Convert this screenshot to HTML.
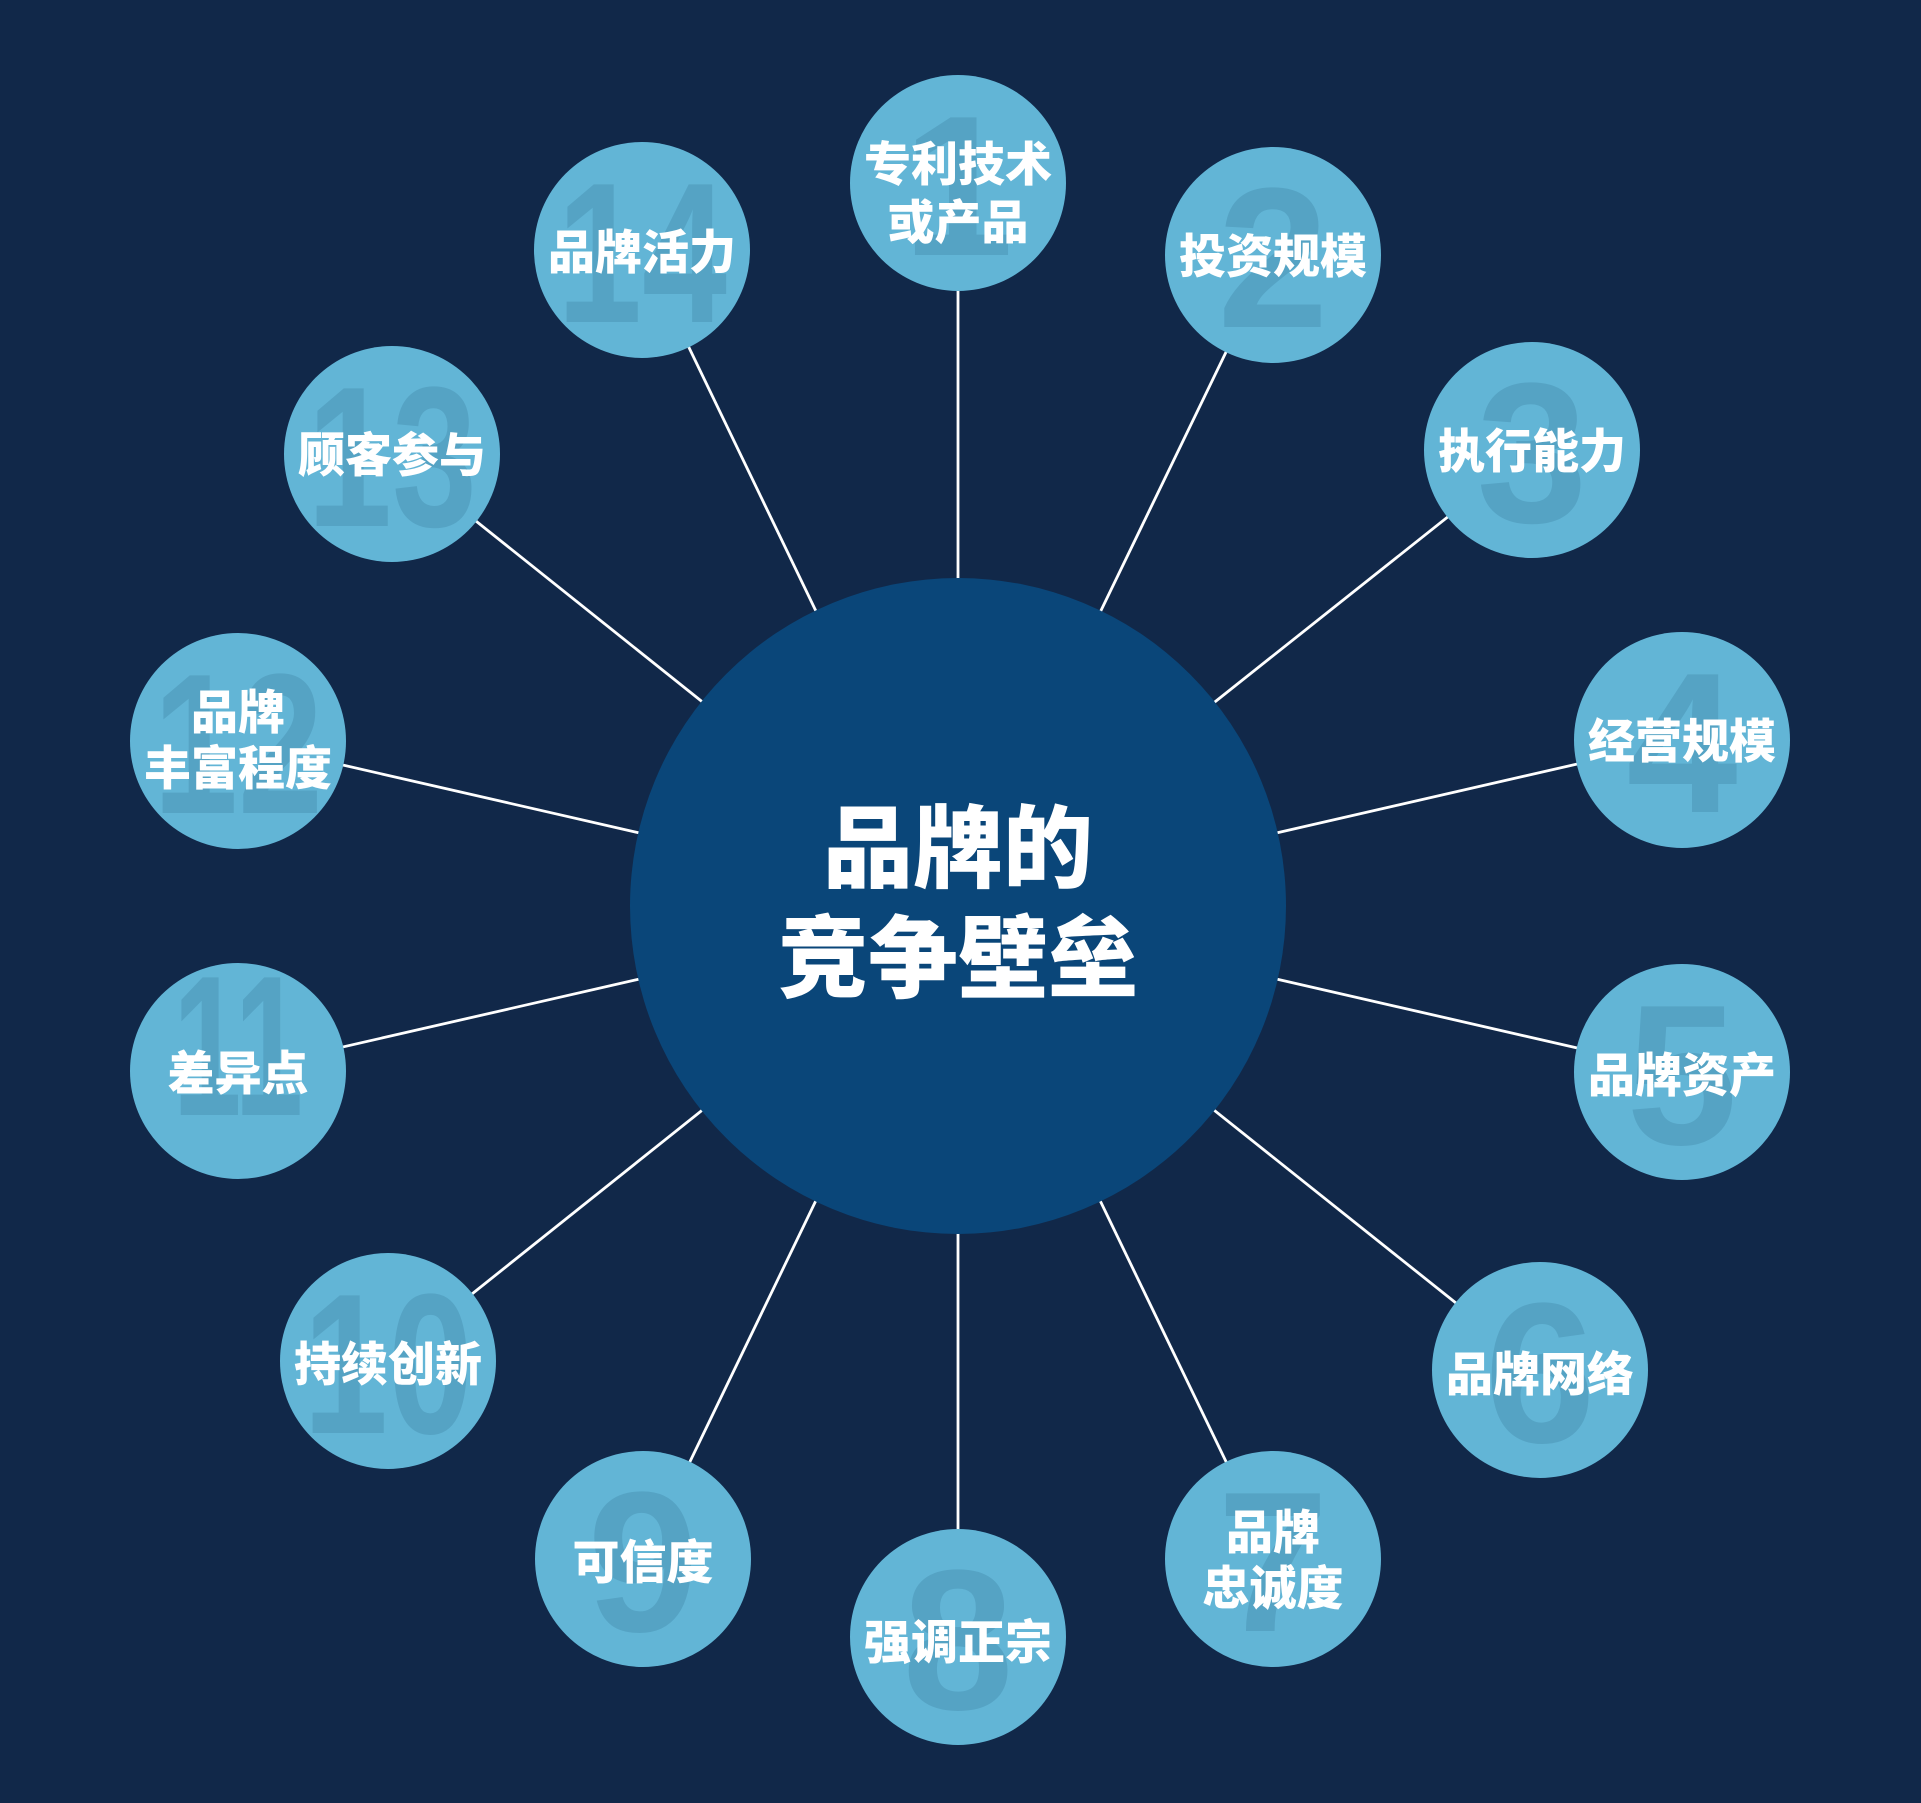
<!DOCTYPE html>
<html><head><meta charset="utf-8"><style>
html,body{margin:0;padding:0;background:#112849;}
svg{display:block}
.n{font-family:"Liberation Sans",sans-serif;font-weight:bold;font-size:200px;fill:#55a3c4;text-anchor:middle}
.l{font-family:"Liberation Sans","Noto Sans CJK SC",sans-serif;font-weight:900;font-size:47px;fill:#fff;text-anchor:middle}
.c{font-family:"Liberation Sans","Noto Sans CJK SC",sans-serif;font-weight:900;font-size:90px;fill:#fff;text-anchor:middle}
</style></head><body>
<svg width="1921" height="1803" viewBox="0 0 1921 1803" xmlns="http://www.w3.org/2000/svg">
<rect width="1921" height="1803" fill="#112849"/>
<g stroke="#ffffff" stroke-width="2.8">
<line x1="958" y1="906" x2="958" y2="183"/>
<line x1="958" y1="906" x2="1273" y2="255"/>
<line x1="958" y1="906" x2="1532" y2="450"/>
<line x1="958" y1="906" x2="1682" y2="740"/>
<line x1="958" y1="906" x2="1682" y2="1072"/>
<line x1="958" y1="906" x2="1540" y2="1370"/>
<line x1="958" y1="906" x2="1273" y2="1559"/>
<line x1="958" y1="906" x2="958" y2="1637"/>
<line x1="958" y1="906" x2="643" y2="1559"/>
<line x1="958" y1="906" x2="388" y2="1361"/>
<line x1="958" y1="906" x2="238" y2="1071"/>
<line x1="958" y1="906" x2="238" y2="741"/>
<line x1="958" y1="906" x2="392" y2="454"/>
<line x1="958" y1="906" x2="642" y2="250"/>
</g>
<circle cx="958" cy="906" r="328" fill="#0a4679"/>
<text class="c" x="958" y="880">品牌的</text>
<text class="c" x="958" y="990">竞争壁垒</text>
<g fill="#62b5d6">
<circle cx="958" cy="183" r="108"/><circle cx="1273" cy="255" r="108"/><circle cx="1532" cy="450" r="108"/>
<circle cx="1682" cy="740" r="108"/><circle cx="1682" cy="1072" r="108"/><circle cx="1540" cy="1370" r="108"/>
<circle cx="1273" cy="1559" r="108"/><circle cx="958" cy="1637" r="108"/><circle cx="643" cy="1559" r="108"/>
<circle cx="388" cy="1361" r="108"/><circle cx="238" cy="1071" r="108"/><circle cx="238" cy="741" r="108"/>
<circle cx="392" cy="454" r="108"/><circle cx="642" cy="250" r="108"/>
</g>
<text class="n" x="958" y="255">1</text>
<text class="n" x="1273" y="327">2</text>
<text class="n" x="1532" y="522">3</text>
<text class="n" x="1682" y="812">4</text>
<text class="n" x="1682" y="1144">5</text>
<text class="n" x="1540" y="1442">6</text>
<text class="n" x="1273" y="1631">7</text>
<text class="n" x="958" y="1709">8</text>
<text class="n" x="643" y="1631">9</text>
<text class="n" x="388" y="1433" textLength="170" lengthAdjust="spacingAndGlyphs">10</text>
<text class="n" x="238" y="1115" textLength="130" lengthAdjust="spacingAndGlyphs">11</text>
<text class="n" x="238" y="813" textLength="170" lengthAdjust="spacingAndGlyphs">12</text>
<text class="n" x="392" y="526" textLength="170" lengthAdjust="spacingAndGlyphs">13</text>
<text class="n" x="642" y="322" textLength="170" lengthAdjust="spacingAndGlyphs">14</text>
<text class="l" x="958" y="181">专利技术</text>
<text class="l" x="958" y="239">或产品</text>
<text class="l" x="1273" y="273">投资规模</text>
<text class="l" x="1532" y="468">执行能力</text>
<text class="l" x="1682" y="758">经营规模</text>
<text class="l" x="1682" y="1092">品牌资产</text>
<text class="l" x="1540" y="1391">品牌网络</text>
<text class="l" x="1273" y="1549">品牌</text>
<text class="l" x="1273" y="1605">忠诚度</text>
<text class="l" x="958" y="1659">强调正宗</text>
<text class="l" x="643" y="1579">可信度</text>
<text class="l" x="388" y="1381">持续创新</text>
<text class="l" x="238" y="1090">差异点</text>
<text class="l" x="238" y="729">品牌</text>
<text class="l" x="238" y="785">丰富程度</text>
<text class="l" x="392" y="472">顾客参与</text>
<text class="l" x="642" y="269">品牌活力</text>
</svg>
</body></html>
